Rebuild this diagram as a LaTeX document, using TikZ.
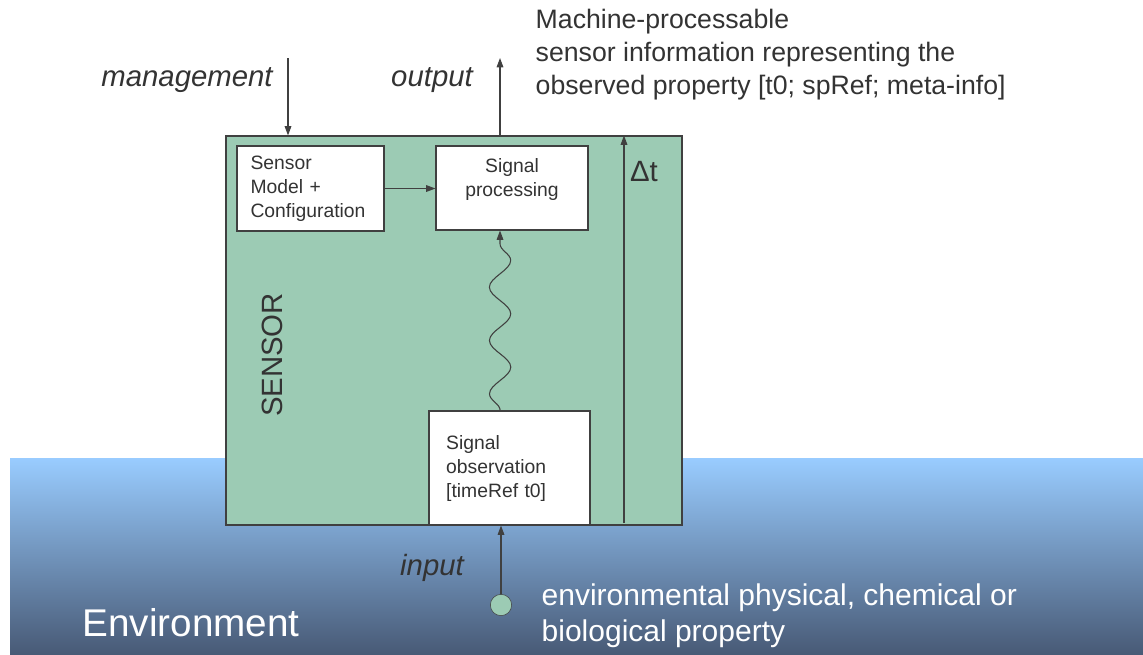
\documentclass[tikz,border=0pt]{standalone}
\usepackage{fontspec}
\setmainfont{Liberation Sans}
\usepackage{tikz}
\usetikzlibrary{arrows.meta, positioning, decorations.pathmorphing}
\definecolor{SensorGreen}{HTML}{9CCBB4}
\definecolor{EnvTop}{HTML}{99CCFF}
\definecolor{EnvBottom}{HTML}{485A76}
\definecolor{LineGrey}{HTML}{404040}
\definecolor{TextGrey}{HTML}{333333}

\begin{document}
\begin{tikzpicture}[
    x=0.75pt, y=-0.75pt,
    box/.style={draw=LineGrey, fill=white, line width=0.8pt, anchor=center, text=TextGrey, font=\fontsize{14.5}{18}\selectfont},
    boxtext/.style={text=TextGrey, font=\fontsize{14.5}{18}\selectfont, align=center},
    flow/.style={draw=LineGrey, line width=0.8pt, -{Triangle[length=7pt, width=5pt]}},
    tag/.style={text=TextGrey, font=\fontsize{22}{26}\selectfont\itshape},
    bigtext/.style={text=TextGrey, font=\fontsize{20}{24.75}\selectfont, align=left, anchor=west}
]

\useasboundingbox (0,0) rectangle (1143,654);

% Environment (bottom)
\shade[top color=EnvTop, bottom color=EnvBottom] (10,458) rectangle (1143,654);

% Sensor body
\node[box, fill=SensorGreen, minimum width=342pt, minimum height=291.75pt] (sensor) at (454,330.5) {};
\node[rotate=90, text=TextGrey, font=\fontsize{22}{26}\selectfont] (sensorname) at (272,355) {SENSOR};

% Inner boxes
\node[box, minimum width=110.25pt, minimum height=63.75pt, text width=90pt, inner xsep=10pt, align=left] (model) at (310.5,188.5) {Sensor\\Model +\\Configuration};
\node[box, minimum width=114pt, minimum height=63pt] (proc) at (512,188) {};
\node[boxtext, below=6pt of proc.north] (proctext) {Signal\\processing};
\node[box, minimum width=120.75pt, minimum height=85.5pt, text width=95pt, inner xsep=12.75pt, align=left] (obs) at (509.5,468) {Signal\\observation\\{[timeRef t0]}};

\draw[flow] (model.east) -- (model.east -| proc.west);
\draw[flow, decorate, decoration={snake, amplitude=8pt, segment length=40pt, post length=4pt}] ([xshift=-7pt]obs.north) -- ([xshift=-9pt]proc.south);

% Time delay
\coordinate (dtbase) at (624,523);
\draw[flow] (dtbase) -- (dtbase |- sensor.north);
\node[text=TextGrey, font=\fontsize{22}{26}\selectfont] (dt) at (644,172) {Δt};

% Management and output
\coordinate (mgmttop) at (288,58);
\draw[flow] (mgmttop) -- (mgmttop |- sensor.north);
\node[tag] (mgmt) at (187,80) {management};
\coordinate (outtop) at (500,58);
\draw[flow] (outtop |- sensor.north) -- (outtop);
\node[tag] (out) at (432,80) {output};
\node[bigtext] (info) at (531,55) {Machine-processable\\sensor information representing the\\observed property [t0; spRef; meta-info]};

% Input
\node[circle, draw=LineGrey, fill=SensorGreen, minimum size=16pt, inner sep=0pt] (src) at (501,605) {};
\draw[flow] (src) -- (src |- obs.south);
\node[tag] (inp) at (432,568) {input};
\node[text=white, font=\fontsize{22.5}{27}\selectfont, align=left, anchor=west] (prop) at (537,616) {environmental physical, chemical or\\biological property};
\node[text=white, font=\fontsize{29}{34}\selectfont] (env) at (191,623) {Environment};

\end{tikzpicture}
\end{document}
